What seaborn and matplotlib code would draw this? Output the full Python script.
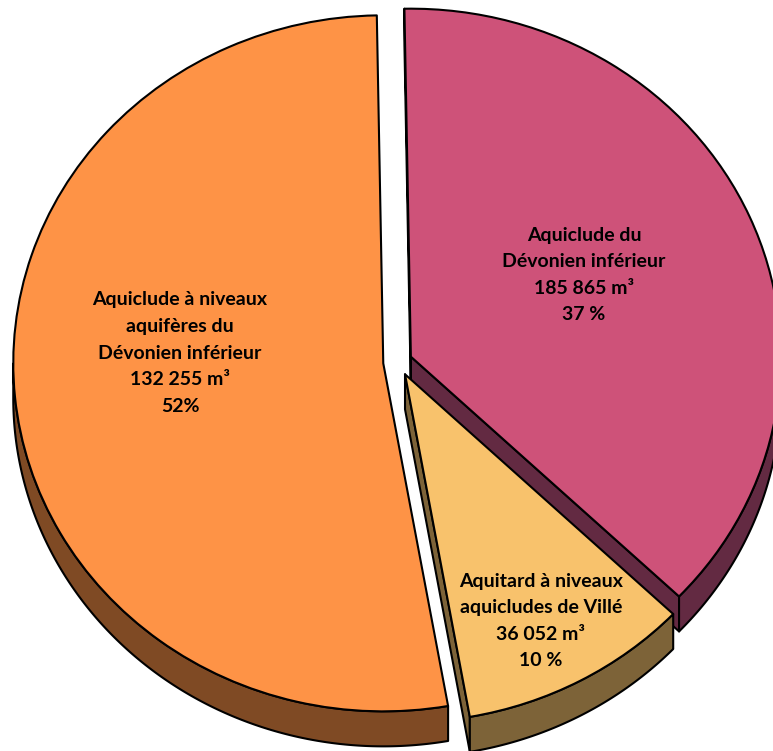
import numpy as np
import matplotlib
matplotlib.use("Agg")
import matplotlib.pyplot as plt
import seaborn as sns
from matplotlib.patches import Polygon

# ---- data ----
categories = ["Aquiclude du\nDévonien inférieur",
              "Aquitard à niveaux\naquicludes de Villé",
              "Aquiclude à niveaux\naquifères du\nDévonien inférieur"]
volumes = [185865, 36052, 132255]
percents = [37, 10, 52]
pct_labels = ["37 %", "10 %", "52%"]

top_colors = ["#CE5279", "#F8C26C", "#FE9346"]
side_colors = ["#632A42", "#7D6338", "#7F4A24"]
explode = [0.038, 0.04, 0.04]

sns.set_theme(style="white")
plt.rcParams['font.family'] = ['Lato', 'DejaVu Sans']

W, H = 773, 751
CX, CY, RX, RY = 398.0, 362.0, 370.0, 348.0   # pixel geometry of the pie
DEPTH = 35.0 / RY                               # extrusion in data units

fig = plt.figure(figsize=(W / 100, H / 100), dpi=100)
ax = fig.add_axes([0, 0, 1, 1])

wedges, _ = ax.pie(percents, startangle=91, counterclock=False, explode=explode,
                   colors=top_colors,
                   wedgeprops=dict(edgecolor="black", linewidth=1.5, joinstyle="round"))
ax.set_aspect("auto")
ax.set_xlim(-CX / RX, (W - CX) / RX)
ax.set_ylim((CY - H) / RY, CY / RY)
ax.axis("off")

order_z = [1, 3, 2]  # magenta back, orange middle, yellow front


def unit(t):
    return np.array([np.cos(np.radians(t)), np.sin(np.radians(t))])


for w, side, z in zip(wedges, side_colors, order_z):
    c = np.asarray(w.center, dtype=float)
    r = w.r
    t1, t2 = w.theta1, w.theta2
    d = np.array([0.0, -DEPTH])
    w.set_zorder(z + 0.5)
    polys = []
    # radial walls
    if np.cos(np.radians(t1)) > 0:
        p = c + r * unit(t1)
        polys.append([c, p, p + d, c + d])
    if np.cos(np.radians(t2)) < 0:
        p = c + r * unit(t2)
        polys.append([c, p, p + d, c + d])
    # outer arc wall (lower half only)
    th = np.linspace(t1, t2, 600)
    mask = np.sin(np.radians(th)) < 0
    idx = np.where(mask)[0]
    if idx.size:
        splits = np.split(idx, np.where(np.diff(idx) > 1)[0] + 1)
        for seg in splits:
            ts = th[seg]
            top = np.column_stack([c[0] + r * np.cos(np.radians(ts)),
                                   c[1] + r * np.sin(np.radians(ts))])
            bot = top + d
            polys.append(np.vstack([top, bot[::-1]]))
    for pts in polys:
        ax.add_patch(Polygon(pts, closed=True, facecolor=side, edgecolor="black",
                             linewidth=1.5, joinstyle="round", zorder=z + 0.2))


def px(x, y):
    return (x - CX) / RX, (CY - y) / RY


label_px = [(584, 275), (541, 621), (180, 353)]
for cat, vol, pct, (lx, ly) in zip(categories, volumes, pct_labels, label_px):
    txt = f"{cat}\n{vol:,} m³\n{pct}".replace(",", " ")
    x, y = px(lx, ly)
    ax.text(x, y, txt, ha="center", va="center", fontsize=14, fontweight="bold",
            color="black", linespacing=1.68, zorder=10)

fig.savefig("out.png", dpi=100)
